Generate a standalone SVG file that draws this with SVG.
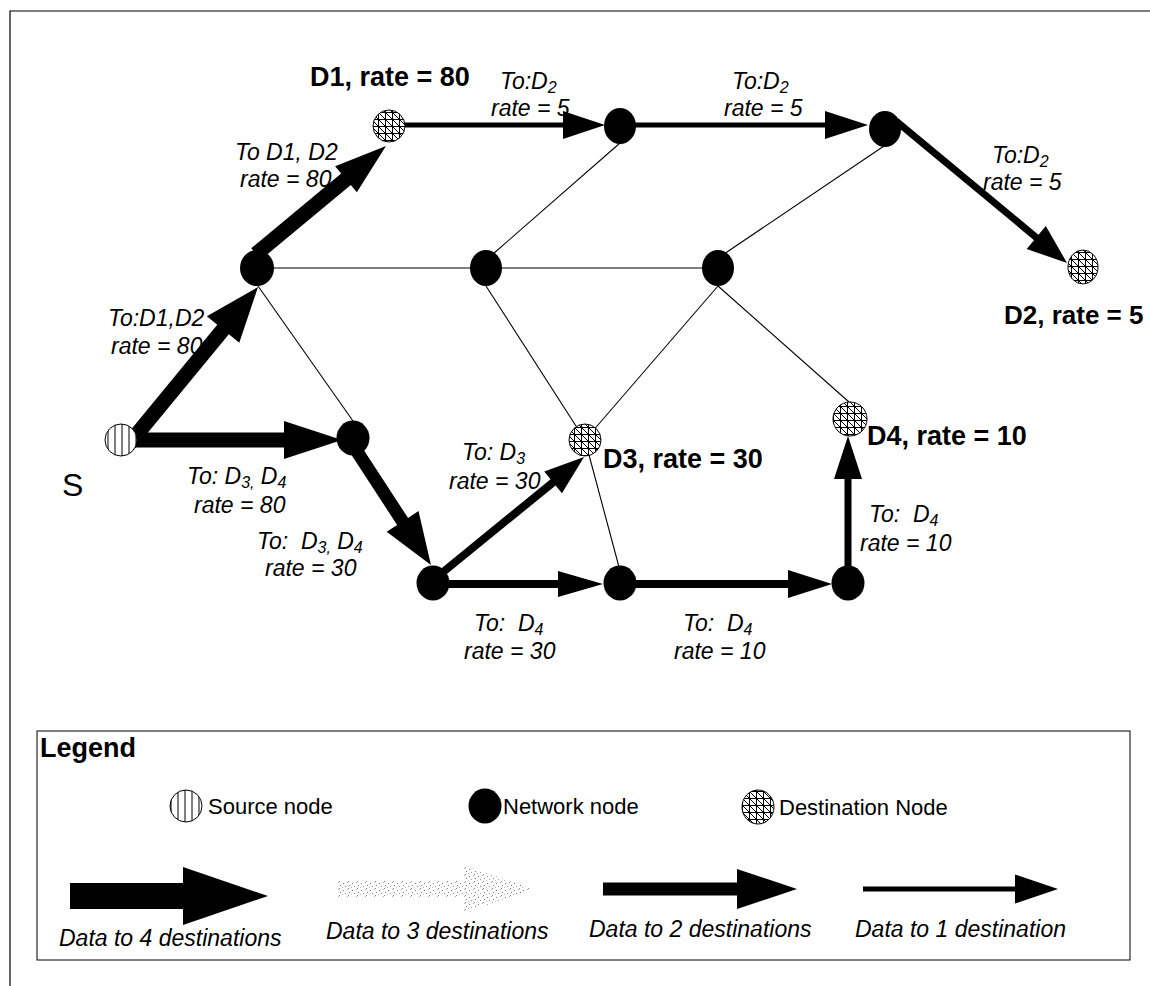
<svg xmlns="http://www.w3.org/2000/svg" width="1150" height="986" viewBox="0 0 1150 986">
<defs>
<pattern id="stripes" patternUnits="userSpaceOnUse" width="7" height="7">
<rect width="7" height="7" fill="#fff"/>
<line x1="3" y1="0" x2="3" y2="7" stroke="#000" stroke-width="1"/>
</pattern>
<pattern id="hatch" patternUnits="userSpaceOnUse" width="7" height="7">
<rect width="7" height="7" fill="#fff"/>
<path d="M0,0.5 H7 M0.5,0 V7 M0,0 L7,7" stroke="#000" stroke-width="1" fill="none"/>
</pattern>
<pattern id="speckle" patternUnits="userSpaceOnUse" width="9" height="7">
<rect x="1" y="1" width="1" height="1" fill="#777"/>
<rect x="5" y="0" width="1" height="1" fill="#aaa"/>
<rect x="7" y="3" width="1" height="1" fill="#777"/>
<rect x="3" y="4" width="1" height="1" fill="#999"/>
<rect x="0" y="5" width="1" height="1" fill="#bbb"/>
<rect x="6" y="6" width="1" height="1" fill="#888"/>
</pattern>
</defs>
<style>
.frame{fill:none;stroke:#000;stroke-width:1.2}
.thin{stroke:#000;stroke-width:1.1;fill:none}
.arrow{fill:#000;stroke:none}
.net{fill:#000}
.src{fill:url(#stripes);stroke:#000;stroke-width:1}
.dst{fill:url(#hatch);stroke:#000;stroke-width:1}
.lbl{font-family:"Liberation Sans",Arial,sans-serif;font-style:italic;font-size:23px;fill:#000}
.big{font-family:"Liberation Sans",Arial,sans-serif;font-weight:bold;font-size:27px;fill:#000}
.reg{font-family:"Liberation Sans",Arial,sans-serif;font-size:22px;fill:#000}
.sub{font-size:16px}
</style>

<path class="frame" d="M10,986 V11 H1150"/>

<g id="connectors">
<line class="thin" x1="257" y1="268" x2="718" y2="268"/>
<line class="thin" x1="258" y1="286" x2="353" y2="421"/>
<line class="thin" x1="493" y1="254" x2="620" y2="143"/>
<line class="thin" x1="486" y1="286" x2="585" y2="440"/>
<line class="thin" x1="585" y1="440" x2="619" y2="567"/>
<line class="thin" x1="718" y1="286" x2="585" y2="440"/>
<line class="thin" x1="718" y1="286" x2="849" y2="402"/>
<line class="thin" x1="724" y1="254" x2="884" y2="146"/>

<polygon class="arrow" transform="translate(128,445) rotate(-50.55)" points="0,-7.5 149.6,-7.5 149.6,-21 204.6,0 149.6,21 149.6,7.5 0,7.5"/>
<polygon class="arrow" transform="translate(128,440)" points="0,-7.5 156,-7.5 156,-19 214,0 156,19 156,7.5 0,7.5"/>
<polygon class="arrow" transform="translate(256,254) rotate(-39.72)" points="0,-7.5 117,-7.5 117,-17 169,0 117,17 117,7.5 0,7.5"/>
<polygon class="arrow" transform="translate(402,125)" points="0,-2.5 161,-2.5 161,-14 203,0 161,14 161,2.5 0,2.5"/>
<polygon class="arrow" transform="translate(634,125)" points="0,-2.5 191,-2.5 191,-14 234,0 191,14 191,2.5 0,2.5"/>
<polygon class="arrow" transform="translate(896,121) rotate(39.7)" points="0,-3.5 182.3,-3.5 182.3,-15 222.3,0 182.3,15 182.3,3.5 0,3.5"/>
<polygon class="arrow" transform="translate(356,450) rotate(56.9)" points="0,-6.5 85.3,-6.5 85.3,-19 137.3,0 85.3,19 85.3,6.5 0,6.5"/>
<polygon class="arrow" transform="translate(437,577) rotate(-39.2)" points="0,-4 149.8,-4 149.8,-14 189.8,0 149.8,14 149.8,4 0,4"/>
<polygon class="arrow" transform="translate(440,584)" points="0,-4 118,-4 118,-13 163,0 118,13 118,4 0,4"/>
<polygon class="arrow" transform="translate(627,584)" points="0,-4 161,-4 161,-14 205,0 161,14 161,4 0,4"/>
<polygon class="arrow" transform="translate(848,570) rotate(-90)" points="0,-3.5 91,-3.5 91,-14 134,0 91,14 91,3.5 0,3.5"/>
</g>

<g id="node-S"><circle class="src" cx="121" cy="440" r="16"/><text class="reg" x="62" y="496" style="font-size:32px">S</text></g>
<g id="node-A"><ellipse class="net" cx="257" cy="268" rx="17" ry="18"/></g>
<g id="node-D1"><circle class="dst" cx="389" cy="126" r="16"/><text class="big" x="310" y="86">D1, rate = 80</text></g>
<g id="node-N1"><ellipse class="net" cx="620" cy="126" rx="16" ry="18"/></g>
<g id="node-N2"><ellipse class="net" cx="885" cy="129" rx="16" ry="18"/></g>
<g id="node-B"><ellipse class="net" cx="486" cy="268" rx="16" ry="18"/></g>
<g id="node-C"><ellipse class="net" cx="718" cy="268" rx="16" ry="18"/></g>
<g id="node-D2"><ellipse class="dst" cx="1083" cy="267" rx="15" ry="17"/><text class="big" x="1004" y="324" style="font-size:26px">D2, rate = 5</text></g>
<g id="node-E"><ellipse class="net" cx="353" cy="438" rx="16.5" ry="17.5"/></g>
<g id="node-D3"><circle class="dst" cx="585" cy="440" r="16"/><text class="big" x="603" y="468">D3, rate = 30</text></g>
<g id="node-D4"><circle class="dst" cx="850" cy="419" r="17"/><text class="big" x="867" y="445">D4, rate = 10</text></g>
<g id="node-F"><ellipse class="net" cx="433" cy="583" rx="16.5" ry="17.5"/></g>
<g id="node-G"><ellipse class="net" cx="620" cy="583" rx="16.5" ry="17.5"/></g>
<g id="node-H"><ellipse class="net" cx="848" cy="583" rx="16.5" ry="17.5"/></g>

<g id="edge-labels">
<text class="lbl" x="235" y="160">To D1, D2</text>
<text class="lbl" x="240" y="187">rate = 80</text>
<text class="lbl" x="108" y="326">To:D1,D2</text>
<text class="lbl" x="111" y="354">rate = 80</text>
<text class="lbl" x="187" y="484">To: D<tspan class="sub" dy="4">3,</tspan><tspan dy="-4"> D</tspan><tspan class="sub" dy="4">4</tspan></text>
<text class="lbl" x="194" y="513">rate = 80</text>
<text class="lbl" x="257" y="549" xml:space="preserve">To:  D<tspan class="sub" dy="4">3,</tspan><tspan dy="-4"> D</tspan><tspan class="sub" dy="4">4</tspan></text>
<text class="lbl" x="265" y="576">rate = 30</text>
<text class="lbl" x="462" y="460">To: D<tspan class="sub" dy="4">3</tspan></text>
<text class="lbl" x="449" y="489">rate = 30</text>
<text class="lbl" x="474" y="631" xml:space="preserve">To:  D<tspan class="sub" dy="4">4</tspan></text>
<text class="lbl" x="464" y="659">rate = 30</text>
<text class="lbl" x="683" y="631" xml:space="preserve">To:  D<tspan class="sub" dy="4">4</tspan></text>
<text class="lbl" x="674" y="659">rate = 10</text>
<text class="lbl" x="869" y="522" xml:space="preserve">To:  D<tspan class="sub" dy="4">4</tspan></text>
<text class="lbl" x="860" y="551">rate = 10</text>
<text class="lbl" x="500" y="89">To:D<tspan class="sub" dy="4">2</tspan></text>
<text class="lbl" x="491" y="116">rate = 5</text>
<text class="lbl" x="732" y="89">To:D<tspan class="sub" dy="4">2</tspan></text>
<text class="lbl" x="724" y="116">rate = 5</text>
<text class="lbl" x="992" y="163">To:D<tspan class="sub" dy="4">2</tspan></text>
<text class="lbl" x="983" y="190">rate = 5</text>
</g>

<g id="legend">
<rect x="37" y="731" width="1093" height="229" fill="none" stroke="#000" stroke-width="1"/>
<text class="big" x="40" y="757">Legend</text>
<circle class="src" cx="186" cy="806" r="16"/>
<text class="reg" x="208" y="814">Source node</text>
<ellipse class="net" cx="485" cy="806" rx="16.5" ry="17.5"/>
<text class="reg" x="503" y="814">Network node</text>
<ellipse class="dst" cx="758" cy="807" rx="16" ry="17"/>
<text class="reg" x="779" y="815">Destination Node</text>
<polygon class="arrow" points="70,883 183,883 183,867 268,896 183,925 183,909 70,909"/>
<polygon fill="url(#speckle)" points="338,881 464,881 464,865 532,889 464,913 464,897 338,897"/>
<polygon class="arrow" points="603,882.5 737,882.5 737,869 797,889 737,909 737,895.5 603,895.5"/>
<polygon class="arrow" points="863,886.5 1015,886.5 1015,874.5 1058,889 1015,903.5 1015,891.5 863,891.5"/>
<text class="lbl" x="59" y="946">Data to 4 destinations</text>
<text class="lbl" x="326" y="939">Data to 3 destinations</text>
<text class="lbl" x="589" y="937">Data to 2 destinations</text>
<text class="lbl" x="855" y="937">Data to 1 destination</text>
</g>
</svg>
